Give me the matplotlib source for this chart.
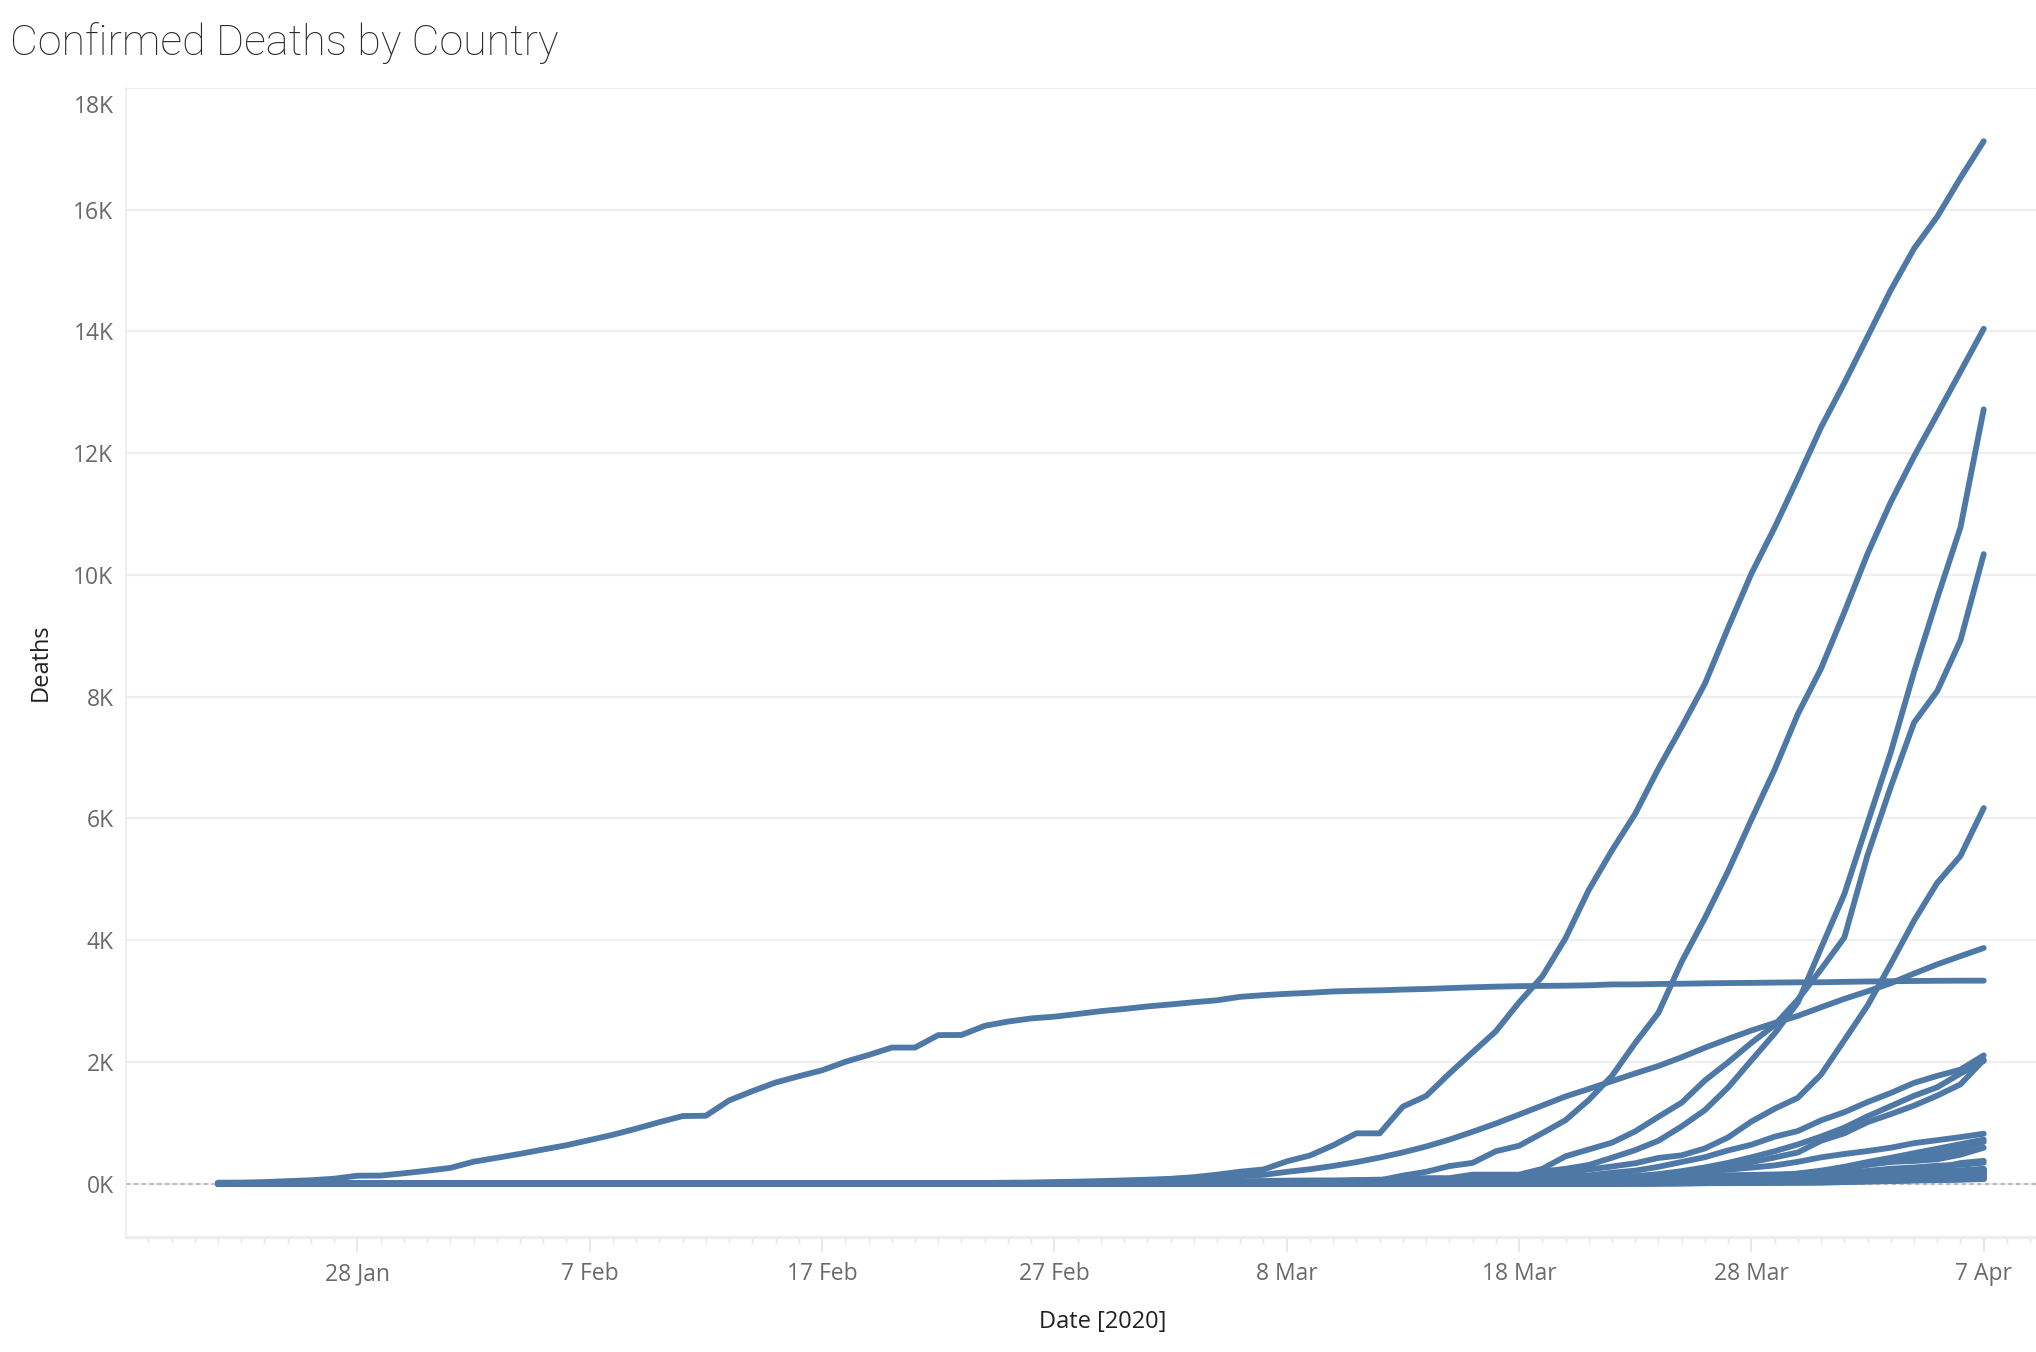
import numpy as np
import pandas as pd
import matplotlib
matplotlib.use('Agg')
from matplotlib import pyplot as plt
import matplotlib.dates as mdates
import matplotlib.transforms as mtransforms

# daily dates covered by the data
dates = pd.date_range('2020-01-22', '2020-04-07')

# cumulative confirmed deaths; each list ends on 7 Apr, earlier days are 0
china = [17, 18, 26, 42, 56, 82, 131, 133, 171, 213,
         259, 361, 425, 490, 562, 632, 717, 804, 904, 1011, 1111, 1116, 1368, 1520, 1662,
         1765, 1863, 2002, 2114, 2236, 2236, 2441, 2443, 2593, 2663, 2715, 2744, 2788, 2835,
         2870, 2912, 2945, 2981, 3013, 3070, 3097, 3119, 3136, 3158, 3169, 3176, 3189, 3199,
         3213, 3226, 3237, 3245, 3249, 3253, 3259, 3274, 3274, 3281, 3285, 3291, 3296, 3299,
         3304, 3308, 3309,
         3316, 3322, 3326, 3330, 3333, 3335, 3335]
italy = [1, 2, 3, 7, 10, 12, 17, 21, 29,
         34, 52, 79, 107, 148, 197, 233, 366, 463, 631, 827, 827, 1266, 1441, 1809, 2158,
         2503, 2978, 3405, 4032, 4825, 5476, 6077, 6820, 7503, 8215, 9134, 10023, 10779,
         11591, 12428,
         13155, 13915, 14681, 15362, 15887, 16523, 17127]
spain = [1, 2, 3, 5, 10, 17, 28, 35, 54, 55, 133, 195, 289, 342, 533, 623, 830, 1043,
         1375, 1772, 2311, 2808, 3647, 4365, 5138, 5982, 6803, 7716, 8464,
         9387, 10348, 11198, 11947, 12641, 13341, 14045]
us = [1,
      1, 6, 7, 11, 12, 14, 17, 21, 22, 28, 36, 40, 47, 54, 63, 85, 108, 118, 200, 244,
      307, 427, 552, 706, 942, 1209, 1581, 2026, 2467, 2978, 3873,
      4757, 5926, 7087, 8407, 9619, 10783, 12722]
france = [1, 1, 1, 1, 1, 1, 1, 1, 1, 2, 2, 2, 2, 2, 2,
          2, 3, 4, 4, 6, 9, 11, 19, 19, 33, 48, 48, 79, 91, 91, 148, 148, 148, 243, 450,
          562, 674, 860, 1100, 1331, 1696, 1995, 2314, 2606, 3024, 3523,
          4043, 5398, 6520, 7574, 8093, 8926, 10343]
uk = [1, 1, 2, 2, 3, 6, 8, 8, 8, 21, 21, 56, 56, 72, 138, 178, 234, 282, 336, 423,
      466, 580, 761, 1021, 1231, 1411, 1793,
      2357, 2926, 3611, 4320, 4943, 5385, 6171]
iran = [2, 2, 4, 5, 8, 12, 16, 19, 26, 34, 43,
        54, 66, 77, 92, 107, 124, 145, 194, 237, 291, 354, 429, 514, 611, 724, 853, 988,
        1135, 1284, 1433, 1556, 1685, 1812, 1934, 2077, 2234, 2378, 2517, 2640, 2757, 2898,
        3036, 3160, 3294, 3452, 3603, 3739, 3872]
germany = [2, 2, 3, 3, 7, 9, 11, 17, 24, 28, 44, 67, 84, 94, 123, 157, 206, 267, 342,
           433, 533, 645, 775,
           920, 1107, 1275, 1444, 1584, 1810, 2016]
belgium = [3, 3, 3, 4, 4, 5, 10, 14, 21, 37, 67, 75, 88, 122, 178, 220, 289, 353, 431,
           513, 705,
           828, 1011, 1143, 1283, 1447, 1632, 2035]
netherlands = [1, 1, 3, 3, 4, 5, 5, 10, 12, 20, 24, 43, 58, 77, 107, 137, 180, 214, 277,
               357, 435, 547, 640, 772, 865, 1040,
               1175, 1341, 1490, 1656, 1771, 1874, 2108]
switzerland = [1, 1, 1, 2, 2, 3, 4, 4, 11, 13, 14, 14, 27, 28, 41, 54, 75, 98, 120, 122,
               153, 191, 231, 264, 300, 359, 433,
               488, 536, 591, 666, 715, 765, 821]
turkey = [1, 2, 3, 4, 9, 30, 37, 44, 59, 75, 92, 108, 131, 168, 214,
          277, 356, 425, 501, 574, 649, 725]
brazil = [1, 3, 6, 11, 15, 25, 34, 46, 59, 77, 92, 111, 136, 159, 201,
          240, 324, 359, 445, 486, 564, 686]
sweden = [1, 1, 1, 2, 3, 6, 7, 10, 11, 16, 20, 21, 25, 36, 62, 77, 105, 105, 110, 146, 180,
          239, 308, 358, 373, 401, 477, 591]
portugal = [1, 2, 3, 6, 12, 14, 23, 33, 43, 60, 76, 100, 119, 140, 160,
            187, 209, 246, 266, 295, 311, 345]
canada = [1, 1, 1, 1, 1, 1, 1, 4, 5, 8, 9, 12, 19, 21, 25, 26, 30, 38, 54, 61, 64, 80, 101,
          109, 139, 179, 218, 259, 339, 375]
austria = [1, 1, 1, 3, 4, 6, 6, 6, 6, 8, 16, 21, 28, 30, 49, 58, 68, 86, 108, 128,
           146, 158, 168, 186, 204, 220, 243]
korea = [1, 2, 2, 6, 8, 10, 12, 13, 13, 16,
         17, 28, 28, 35, 35, 42, 44, 50, 53, 54, 60, 66, 66, 72, 75, 75, 81, 84, 91, 94,
         102, 104, 111, 120, 126, 131, 139, 144, 152, 158, 162,
         165, 169, 174, 177, 183, 186, 192]
indonesia = [1, 1, 4, 5, 5, 5, 5, 19, 25, 32, 38, 48, 49, 55, 58, 78, 87, 102, 114, 122, 136,
             157, 170, 181, 191, 198, 209, 221]
japan = [1, 1, 1, 1, 1, 1, 1, 1, 1, 1, 1, 1, 2, 4, 4, 5, 6,
         6, 6, 6, 6, 6, 6, 6, 6, 10, 10, 15, 16, 19, 22, 22, 27, 29, 29, 29, 33, 35, 41,
         42, 43, 45, 47, 49, 52, 54, 54, 56,
         57, 62, 63, 77, 77, 85, 92]
denmark = [1, 2, 3, 4, 4, 6, 9, 13, 13, 24, 32, 34, 41, 52, 65, 72, 77, 90,
           104, 123, 139, 161, 179, 187, 203]
ecuador = [2, 2, 2, 3, 3, 4, 5, 7, 14, 18, 27, 28, 34, 36, 48, 58, 60, 75,
           93, 120, 145, 172, 180, 191, 242]
philippines = [1, 1, 1, 1, 1, 1, 1, 1, 1, 1, 2, 5, 8, 11, 12, 12, 14, 17, 19, 19, 25, 33,
               33, 35, 38, 45, 54, 68, 71, 78, 88,
               96, 107, 136, 144, 152, 163, 177]
ireland = [1, 1, 1, 2, 2, 2, 2, 3, 3, 3, 3, 4, 6, 7, 9, 19, 22, 36, 46, 54, 71,
           85, 98, 120, 137, 158, 174, 210]
algeria = [1, 2, 3, 4, 4, 4, 7, 9, 11, 15, 17, 17, 19, 21, 25, 26, 29, 31, 35, 44,
           58, 86, 105, 130, 152, 173, 193]
india = [1, 2, 2, 2, 2, 3, 3, 4, 5, 5, 7, 10, 10, 12, 20, 20, 24, 27, 32, 35,
         58, 72, 72, 86, 99, 136, 150]
romania = [2, 11, 11, 17, 23, 37, 43, 65, 82, 92,
           94, 115, 133, 133, 151, 151, 176]
mexico = [1, 2, 2, 3, 4, 5, 6, 8, 12, 16, 20, 28, 29,
          37, 50, 60, 79, 94, 125, 141]
poland = [1, 2, 3, 3, 5, 5, 5, 5, 5, 5, 5, 7, 10, 10, 16, 16, 22, 31, 32, 33,
          43, 57, 71, 79, 94, 107, 129]
norway = [1, 1, 1, 3, 3, 3, 3, 3, 7, 7, 7, 7, 10, 12, 14, 14, 19, 23, 25, 32,
          39, 44, 50, 59, 62, 71, 76]
peru = [2, 3, 5, 7, 9, 9, 9, 11, 16, 18, 24, 30, 30,
        30, 55, 61, 73, 83, 92, 107]
israel = [1, 1, 1, 1, 3, 5, 10, 12, 15, 16, 16, 16,
          26, 36, 44, 57, 65, 73, 86]
egypt = [1, 1, 2, 2, 2, 2, 2, 2, 2, 4, 6, 7, 9, 10, 14, 19, 20, 21, 24, 30, 36, 41, 46, 59,
         71, 78, 85, 94, 103, 118, 135]
dominican = [1, 1, 1, 2, 2, 2, 3, 6, 10, 20, 28, 39, 42, 51, 57,
             60, 68, 82, 86, 98, 108, 118]
czechia = [1, 1, 3, 6, 9, 9, 11, 16, 17, 24,
           31, 39, 44, 53, 59, 67, 78]
greece = [1, 1, 3, 4, 4, 5, 5, 5, 6, 6, 13, 15, 17, 20, 22, 26, 28, 32, 38, 43,
          49, 50, 53, 68, 73, 79, 81]

countries = [china, italy, spain, us, france, uk, iran, germany, belgium, netherlands,
             switzerland, turkey, brazil, sweden, portugal, canada, austria, korea,
             indonesia, japan, denmark, ecuador, philippines, ireland, algeria, india,
             romania, mexico, poland, norway, peru, israel, egypt, dominican, czechia,
             greece]

tick_dates = ['2020-01-28', '2020-02-07', '2020-02-17', '2020-02-27',
              '2020-03-08', '2020-03-18', '2020-03-28', '2020-04-07']
tick_labels = ['28 Jan', '7 Feb', '17 Feb', '27 Feb', '8 Mar', '18 Mar', '28 Mar', '7 Apr']
y_ticks = [0, 2000, 4000, 6000, 8000, 10000, 12000, 14000, 16000, 18000]
y_labels = ['0K', '2K', '4K', '6K', '8K', '10K', '12K', '14K', '16K', '18K']

blue = '#4e79a7'
plt.rcParams['font.family'] = ['Open Sans', 'DejaVu Sans']

fig = plt.figure(figsize=(20.36, 13.52), dpi=100)
ax = fig.add_axes([0.0619, 0.0851, 0.9381, 0.8498])

ax.axhline(0, color='#bdbdbd', lw=1.6, ls=(0, (2, 1.5)), zorder=1)
for vals in countries:
    full = [0] * (len(dates) - len(vals)) + vals
    ax.plot(dates, full, color=blue, lw=4.2, solid_capstyle='round',
            solid_joinstyle='round', zorder=3)

ax.set_xlim(pd.Timestamp('2020-01-18 01:00'), pd.Timestamp('2020-04-09 06:00'))
ax.set_ylim(-875, 18000)

ax.set_yticks(y_ticks)
ax.set_yticklabels(y_labels, fontsize=16.5, color='#6a6a6a')
ax.tick_params(axis='y', length=0, pad=9)
ax.grid(axis='y', color='#efefef', lw=1.6)
ax.set_axisbelow(True)
# top label sits just under the top gridline, as tableau does it
top_lab = ax.get_yticklabels()[-1]
top_lab.set_verticalalignment('top')
top_lab.set_transform(top_lab.get_transform() +
                      mtransforms.ScaledTranslation(0, -7 / 100, fig.dpi_scale_trans))

ax.set_xticks(pd.to_datetime(tick_dates))
ax.set_xticklabels(tick_labels, fontsize=16.5, color='#6a6a6a')
ax.xaxis.set_minor_locator(mdates.DayLocator())
ax.tick_params(axis='x', which='major', length=11, width=1.2, color='#e4e4e4', pad=7)
ax.tick_params(axis='x', which='minor', length=4, width=1.0, color='#e4e4e4')

for side in ['top', 'right']:
    ax.spines[side].set_visible(False)
ax.spines['left'].set_color('#eeeeee')
ax.spines['left'].set_linewidth(1.2)
ax.spines['bottom'].set_color('#eeeeee')
ax.spines['bottom'].set_linewidth(2.5)

ax.set_ylabel('Deaths', fontsize=17, color='#222222', fontweight='medium')
ax.yaxis.set_label_coords(-0.0385, 0.5)
ax.set_xlabel('Date [2020]', fontsize=17, color='#222222', fontweight='medium')
ax.xaxis.set_label_coords(0.5115, -0.064)

fig.text(0.005, 0.9685, 'Confirmed Deaths by Country', fontsize=31,
         fontfamily=['Roboto', 'DejaVu Sans'], fontweight='light',
         color='#2a2a2a', va='center', ha='left')

fig.savefig('out.png', dpi=100)
